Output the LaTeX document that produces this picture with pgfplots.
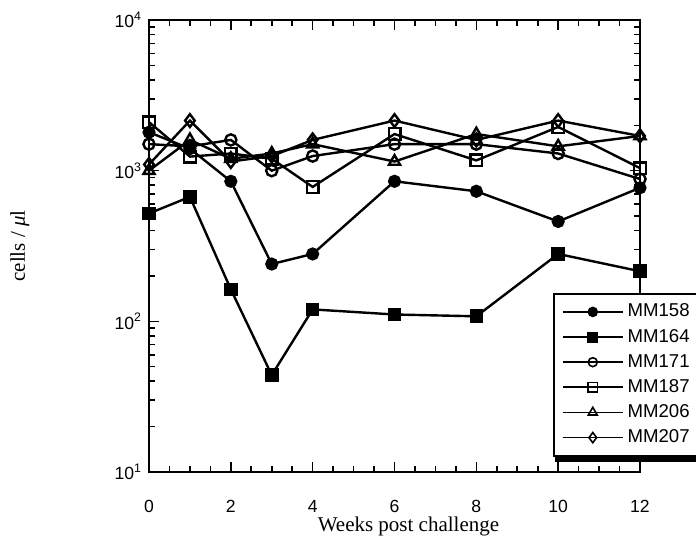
\documentclass[border=0pt]{standalone}
\usepackage{fontspec}
\setmainfont{Liberation Serif}
\setsansfont{Liberation Sans}
\usepackage{pgfplots}
\pgfplotsset{compat=1.18}

\begin{document}
\begin{tikzpicture}
\begin{axis}[
  scale only axis,
  width=245.5pt, height=226pt,
  ymode=log,
  xmin=0, xmax=12, ymin=10, ymax=10000,
  xtick={0,2,4,6,8,10,12},
  minor x tick num=3,
  ytick={10,100,1000,10000},
  yticklabels={10\textsuperscript{1},10\textsuperscript{2},10\textsuperscript{3},10\textsuperscript{4}},
  tick align=inside,
  tick style={black, line width=0.8pt},
  major tick length=5pt, minor tick length=3pt,
  axis line style={line width=1pt},
  /pgf/number format/assume math mode=true,
  tick label style={font=\sffamily\fontsize{8.8}{10}\selectfont},
  xticklabel shift=10.5pt,
  xlabel={Weeks post challenge},
  ylabel={cells / {\itshape μ}l},
  label style={font=\rmfamily\fontsize{10.5}{12}\selectfont},
  xlabel style={at={(axis description cs:0.5,0)}, anchor=center, yshift=-27pt, xshift=7pt},
  ylabel style={at={(axis description cs:-0.263,0.5)}, anchor=center},
  every axis plot/.append style={black, line width=1.2pt, mark options={solid, line width=1pt}},
  legend style={name=leg, at={(rel axis cs:0.823,0.396)}, anchor=north west,
    font=\sffamily\fontsize{9.3}{10}\selectfont, draw=black, line width=0.9pt,
    fill=white, row sep=0.6pt, inner xsep=4pt, inner ysep=3pt},
  legend cell align=left,
  legend image code/.code={\draw[mark repeat=2, mark phase=2, line width=0.8pt, mark options={scale=0.8}]
    plot coordinates {(0pt,0pt) (15pt,0pt) (30pt,0pt)};},
  clip=false,
]
\addplot[mark=*, mark size=2.8pt] coordinates {(0,1800) (1,1400) (2,850) (3,240) (4,280) (6,850) (8,730) (10,460) (12,770)};
\addplot[mark=square*, mark size=2.9pt] coordinates {(0,520) (1,670) (2,163) (3,44) (4,120) (6,111) (8,108) (10,280) (12,215)};
\addplot[mark=o, mark size=2.8pt, mark options={fill=white}] coordinates {(0,1500) (1,1450) (2,1600) (3,1000) (4,1250) (6,1500) (8,1500) (10,1300) (12,880)};
\addplot[mark=square, mark size=2.9pt, mark options={fill=white}] coordinates {(0,2100) (1,1240) (2,1300) (3,1200) (4,780) (6,1750) (8,1170) (10,1950) (12,1040)};
\addplot[mark=triangle, mark size=3.2pt, mark options={fill=white}] coordinates {(0,1000) (1,1600) (2,1200) (3,1300) (4,1500) (6,1150) (8,1750) (10,1450) (12,1700)};
\addplot[mark=diamond, mark size=3.2pt, mark options={fill=white}] coordinates {(0,1100) (1,2150) (2,1150) (3,1250) (4,1600) (6,2150) (8,1600) (10,2150) (12,1700)};
\legend{MM158, MM164, MM171, MM187, MM206, MM207}
\coordinate (o) at (rel axis cs:0,0);
\end{axis}
\draw[line width=2.6pt] ([xshift=1pt,yshift=-1.2pt]leg.south west) -- ([xshift=2pt,yshift=-1.2pt]leg.south east);
\pgfresetboundingbox
\path (o) ++(-74.5pt,-39.5pt) rectangle ++(348pt,275.5pt);
\end{tikzpicture}
\end{document}
